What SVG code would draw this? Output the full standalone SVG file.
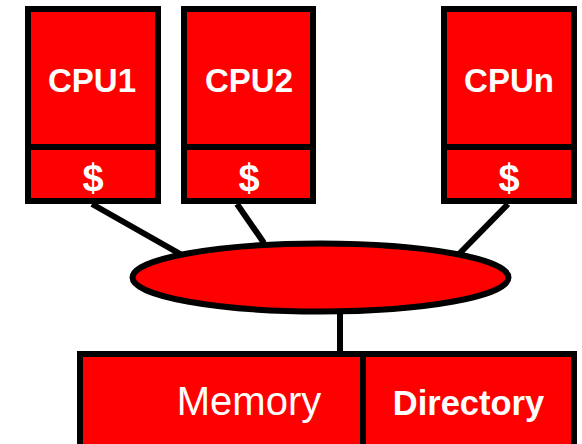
<svg xmlns="http://www.w3.org/2000/svg" width="582" height="444" viewBox="0 0 582 444">
<style>
.box{fill:#ff0000;stroke:#000;stroke-width:6}
.ln{stroke:#000;stroke-width:6;fill:none}
.lbl{font-family:"Liberation Sans",Arial,sans-serif;font-weight:bold;font-size:33px;fill:#fff;text-anchor:middle}
.dol{font-family:"Liberation Sans",Arial,sans-serif;font-weight:bold;font-size:38px;fill:#fff;text-anchor:middle}
.mem{font-family:"Liberation Sans",Arial,sans-serif;font-size:40px;fill:#fff;text-anchor:middle}
</style>
<rect width="582" height="444" fill="#fff"/>
<g id="connectors">
<line class="ln" x1="92" y1="204" x2="182" y2="255"/>
<line class="ln" x1="237" y1="204" x2="264" y2="243"/>
<line class="ln" x1="508" y1="204" x2="458" y2="255"/>
<line class="ln" x1="340" y1="311" x2="340" y2="352"/>
</g>
<g id="cpu1">
<rect class="box" x="28" y="9" width="130" height="192"/>
<line class="ln" x1="28" y1="147" x2="158" y2="147"/>
<text class="lbl" x="92" y="92">CPU1</text>
<text class="dol" x="93" y="191">$</text>
</g>
<g id="cpu2">
<rect class="box" x="184" y="9" width="129" height="192"/>
<line class="ln" x1="184" y1="147" x2="313" y2="147"/>
<text class="lbl" x="249" y="92">CPU2</text>
<text class="dol" x="249" y="191">$</text>
</g>
<g id="cpun">
<rect class="box" x="444" y="9" width="130" height="192"/>
<line class="ln" x1="444" y1="147" x2="574" y2="147"/>
<text class="lbl" x="509" y="92">CPUn</text>
<text class="dol" x="509" y="191">$</text>
</g>
<g id="bus">
<ellipse class="box" cx="320.5" cy="277.5" rx="188" ry="34"/>
</g>
<g id="memory">
<rect class="box" x="80" y="354" width="494" height="110"/>
<line class="ln" x1="363" y1="354" x2="363" y2="450"/>
<text class="mem" x="249" y="415">Memory</text>
<text class="lbl" x="468.5" y="415" style="font-size:34.5px">Directory</text>
</g>
</svg>
